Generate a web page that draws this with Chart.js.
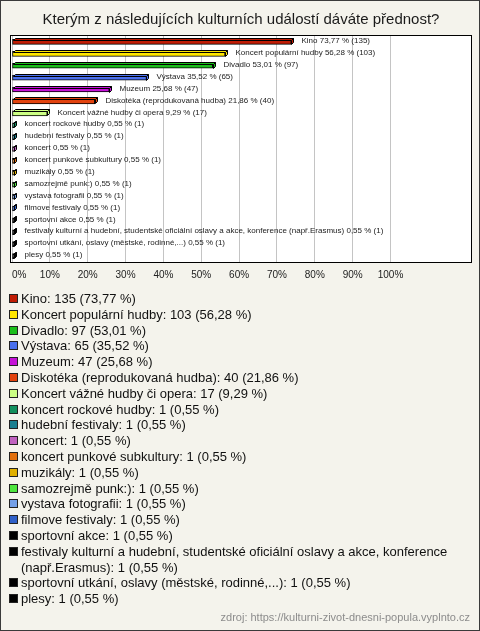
<!DOCTYPE html>
<html>
<head>
<meta charset="utf-8">
<script src="https://cdn.jsdelivr.net/npm/chart.js"></script>
<style>
  body { margin: 0; background: #fff; }
  #wrap {
    position: relative; width: 480px; height: 631px; box-sizing: border-box;
    border: 1px solid #3a3a3a; background: #f4f3ec;
    font-family: "Liberation Sans", Arial, sans-serif;
  }
  #chartBox { position: absolute; left: 0; top: 0; width: 478px; height: 293px; }
  #legend {
    position: absolute; left: 8px; top: 290px; width: 462px;
    font-size: 13px; line-height: 15.8px; color: #111;
  }
  .item { display: flex; align-items: flex-start; }
  .box { flex: none; width: 7px; height: 7px; border: 1px solid #222; margin: 3px 3px 0 0; }
  #source { position: absolute; right: 9px; top: 610px; font-size: 11px; color: #8c8c8c; }
</style>
</head>
<body>
<div id="wrap">
  <div id="chartBox"><canvas id="myChart"></canvas></div>
  <div id="legend"></div>
  <div id="source">zdroj: https://kulturni-zivot-dnesni-popula.vyplnto.cz</div>
</div>
<script>
// data
const title = 'Kterým z následujících kulturních událostí dáváte přednost?';
const categories = [
  'Kino', 'Koncert populární hudby', 'Divadlo', 'Výstava', 'Muzeum',
  'Diskotéka (reprodukovaná hudba)', 'Koncert vážné hudby či opera',
  'koncert rockové hudby', 'hudební festivaly', 'koncert', 'koncert punkové subkultury',
  'muzikály', 'samozrejmě punk:)', 'vystava fotografii', 'filmove festivaly',
  'sportovní akce',
  'festivaly kulturní a hudební, studentské oficiální oslavy a akce, konference (např.Erasmus)',
  'sportovní utkání, oslavy (městské, rodinné,...)', 'plesy'
];
const counts = [135, 103, 97, 65, 47, 40, 17, 1, 1, 1, 1, 1, 1, 1, 1, 1, 1, 1, 1];
const percents = [73.77, 56.28, 53.01, 35.52, 25.68, 21.86, 9.29, 0.55, 0.55, 0.55,
  0.55, 0.55, 0.55, 0.55, 0.55, 0.55, 0.55, 0.55, 0.55];
const colors = [
  '#c01c04', '#ffe600', '#1cbf1c', '#4a70ee', '#c412d6', '#e2420e', '#ccff84',
  '#12905e', '#1a7f90', '#c062c0', '#e2700e', '#e0b000', '#4ee63e', '#74a0e8',
  '#3060c8', '#000000', '#000000', '#000000', '#000000'
];
const xTickLabels = ['0%', '10%', '20%', '30%', '40%', '50%', '60%', '70%', '80%', '90%', '100%'];

const fmt = v => v.toFixed(2).replace('.', ',');

// 3d bar tops, bar labels, white plot area and its frame
const bar3d = {
  id: 'bar3d',
  beforeDraw(chart) {
    const { ctx, chartArea: a } = chart;
    ctx.save();
    ctx.fillStyle = '#fff';
    ctx.fillRect(a.left - 1, a.top - 1, a.right - a.left + 2, a.bottom - a.top + 2);
    ctx.restore();
  },
  afterDatasetsDraw(chart) {
    const { ctx, chartArea: a } = chart;
    const meta = chart.getDatasetMeta(0);
    ctx.save();
    ctx.lineWidth = 1;
    meta.data.forEach((el, i) => {
      const d = 2, h = 4;
      const x0 = Math.round(el.base) + 0.5, x1 = Math.round(el.x) + 0.5;
      const yt = Math.round(el.y - h / 2) + 0.5, yb = yt + h;
      ctx.fillStyle = colors[i];
      ctx.strokeStyle = '#000';
      ctx.beginPath();
      ctx.moveTo(x0, yt); ctx.lineTo(x0 + d, yt - d); ctx.lineTo(x1 + d, yt - d); ctx.lineTo(x1, yt);
      ctx.closePath(); ctx.fill(); ctx.stroke();
      ctx.beginPath();
      ctx.moveTo(x1, yt); ctx.lineTo(x1 + d, yt - d); ctx.lineTo(x1 + d, yb - d); ctx.lineTo(x1, yb);
      ctx.closePath(); ctx.fill(); ctx.stroke();
      ctx.fillStyle = '#222';
      ctx.font = '8px "Liberation Sans", Arial, sans-serif';
      ctx.textBaseline = 'middle';
      ctx.fillText(categories[i] + ' ' + fmt(percents[i]) + ' % (' + counts[i] + ')', x1 + d + 8, el.y - 1);
    });
    ctx.strokeStyle = '#000';
    ctx.strokeRect(a.left - 1.5, a.top - 0.5, a.right - a.left + 3, a.bottom - a.top + 1);
    ctx.restore();
  }
};

const chart = new Chart(document.getElementById('myChart').getContext('2d'), {
  type: 'bar',
  data: {
    labels: categories,
    datasets: [{
      data: percents,
      backgroundColor: colors,
      borderColor: '#000',
      borderWidth: 1,
      barThickness: 5,
      borderSkipped: false
    }]
  },
  options: {
    indexAxis: 'y',
    responsive: true,
    maintainAspectRatio: false,
    animation: false,
    layout: { padding: { left: 11, right: 9, top: 0, bottom: 6 } },
    plugins: {
      legend: { display: false },
      tooltip: { enabled: false },
      title: {
        display: true,
        text: title,
        color: '#1a1a1a',
        font: { family: '"Liberation Sans", Arial, sans-serif', size: 15, weight: 'normal' },
        padding: { top: 10, bottom: 7 }
      }
    },
    scales: {
      x: {
        min: 0,
        max: 121,
        border: { display: false },
        afterBuildTicks: s => { s.ticks = s.ticks.filter(t => t.value % 10 === 0); },
        grid: {
          drawTicks: false,
          color: c => (c.tick && c.tick.value <= 100 ? '#c4c4c4' : 'rgba(0,0,0,0)')
        },
        ticks: {
          stepSize: 10,
          autoSkip: false,
          maxRotation: 0,
          align: 'inner',
          padding: 7,
          color: '#222',
          font: { family: '"Liberation Sans", Arial, sans-serif', size: 10 },
          callback: v => (v <= 100 ? xTickLabels[v / 10] : '')
        }
      },
      y: { display: false }
    }
  },
  plugins: [bar3d]
});

// legend under the chart
const legend = document.getElementById('legend');
categories.forEach((name, i) => {
  const row = document.createElement('div');
  row.className = 'item';
  const box = document.createElement('span');
  box.className = 'box';
  box.style.background = colors[i];
  const txt = document.createElement('span');
  txt.textContent = name + ': ' + counts[i] + ' (' + fmt(percents[i]) + ' %)';
  row.appendChild(box);
  row.appendChild(txt);
  legend.appendChild(row);
});
</script>
</body>
</html>
